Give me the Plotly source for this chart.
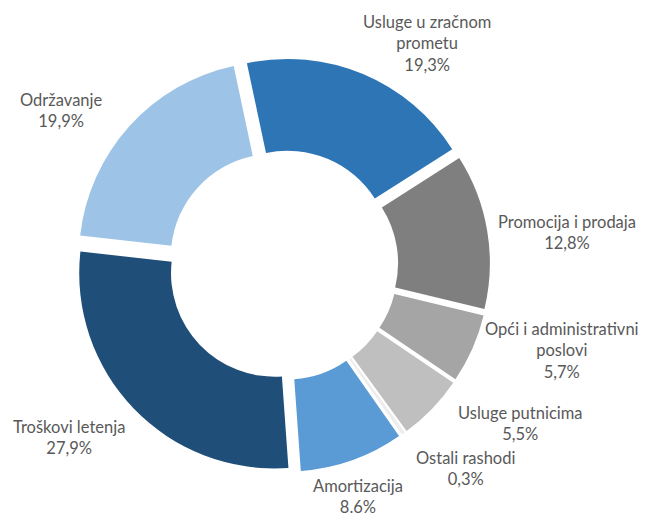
import plotly.graph_objects as go

# kategorije troškova i udjeli (%)
labels = ['Usluge u zračnom prometu', 'Promocija i prodaja', 'Opći i administrativni poslovi',
          'Usluge putnicima', 'Ostali rashodi', 'Amortizacija', 'Troškovi letenja', 'Održavanje']
values = [19.3, 12.8, 5.7, 5.5, 0.3, 8.6, 27.9, 19.9]
value_text = ['19,3%', '12,8%', '5,7%', '5,5%', '0,3%', '8.6%', '27,9%', '19,9%']
# oznake kako su prelomljene na slici
label_lines = ['Usluge u zračnom<br>prometu', 'Promocija i prodaja', 'Opći i administrativni<br>poslovi',
               'Usluge putnicima', 'Ostali rashodi', 'Amortizacija', 'Troškovi letenja', 'Održavanje']

colors = ['#2E75B6', '#7F7F7F', '#A5A5A5', '#BFBFBF', '#EDEDED', '#5B9BD5', '#1F4E79', '#9DC3E6']

# položaj oznaka (paper koordinate)
label_pos = [(0.654, 0.930), (0.872, 0.559), (0.864, 0.328), (0.800, 0.184),
             (0.713, 0.095), (0.546, 0.041), (0.095, 0.157), (0.084, 0.799)]

# stranica ima 8px marginu tijela, pa je figura malo manja od prozora
W, H = 641, 509

fig = go.Figure(go.Pie(
    labels=labels,
    values=values,
    textinfo='none',
    sort=False,
    direction='clockwise',
    rotation=-12,
    hole=0.53,
    pull=[0.06] * len(values),
    marker=dict(colors=colors, line=dict(color='white', width=0)),
    domain=dict(x=[0.106, 0.752], y=[0.088, 0.902]),
    showlegend=False,
    hoverinfo='label+percent',
))

for lab, txt, (px_, py_) in zip(label_lines, value_text, label_pos):
    fig.add_annotation(
        x=px_, y=py_, xref='paper', yref='paper',
        text=f'{lab}<br>{txt}', showarrow=False,
        xanchor='center', yanchor='middle', align='center',
        font=dict(family='Lato', size=16.5, color='#595959'),
    )

fig.update_layout(
    width=W, height=H,
    margin=dict(l=0, r=0, t=0, b=0),
    paper_bgcolor='white',
    plot_bgcolor='white',
)

fig.write_html("out.html")
